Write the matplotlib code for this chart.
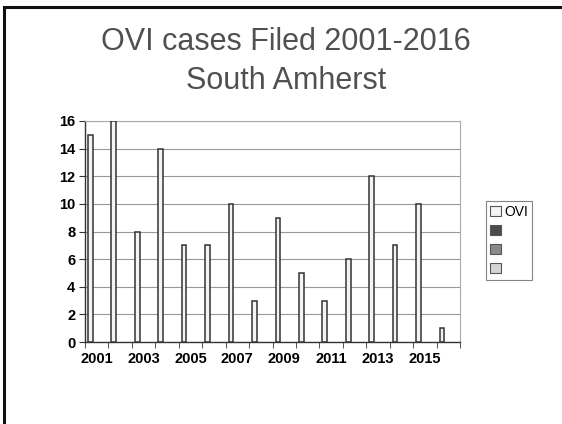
import numpy as np
import matplotlib
matplotlib.use('Agg')
import matplotlib.pyplot as plt
from matplotlib.patches import Patch, Rectangle

years = list(range(2001, 2017))
ovi_cases = [15, 16, 8, 14, 7, 7, 10, 3, 9, 5, 3, 6, 12, 7, 10, 1]
series_names = ['OVI', '', '', '']
series_colors = ['#f4f4f4', '#4a4a4a', '#8a8a8a', '#d4d4d4']

plt.rcParams['font.family'] = ['Liberation Sans', 'DejaVu Sans']

fig = plt.figure(figsize=(5.62, 4.24), dpi=100)
fig.patch.set_facecolor('white')

# slide frame
fig.add_artist(Rectangle((4 / 562, -0.05), 1.2, 1 - 7 / 424 + 0.05,
                         transform=fig.transFigure, fill=False,
                         edgecolor='#111111', linewidth=2.2))

fig.text(286 / 562, 1 - 42 / 424, 'OVI cases Filed 2001-2016', ha='center', va='center',
         fontsize=22, color='#505050')
fig.text(286 / 562, 1 - 81 / 424, 'South Amherst', ha='center', va='center',
         fontsize=22, color='#505050')

ax = fig.add_axes([85 / 562, 1 - 342 / 424, 375 / 562, 221 / 424])

x = np.arange(len(years))
ax.bar(x - 0.27, ovi_cases, width=0.2, facecolor=series_colors[0],
       edgecolor='#333333', linewidth=1.1, zorder=3)

ax.set_xlim(-0.5, len(years) - 0.5)
ax.set_ylim(0, 16)
ax.set_yticks(range(0, 17, 2))
ax.yaxis.grid(True, color='#999999', linewidth=0.8, zorder=0)

ax.set_xticks(x[::2])
ax.set_xticklabels([str(y) for y in years[::2]])
ax.set_xticks(np.arange(-0.5, len(years), 1), minor=True)
ax.tick_params(axis='x', which='major', length=0, pad=7)
ax.tick_params(axis='x', which='minor', length=4, direction='out', color='#333333')
ax.tick_params(axis='y', length=4, direction='out', color='#333333', pad=3)
for lab in ax.get_xticklabels() + ax.get_yticklabels():
    lab.set_fontweight('bold')
    lab.set_fontsize(10.5)

for side in ['top', 'right']:
    ax.spines[side].set_color('#aaaaaa')
    ax.spines[side].set_linewidth(0.8)
for side in ['left', 'bottom']:
    ax.spines[side].set_color('#333333')
    ax.spines[side].set_linewidth(1.0)

handles = [Patch(facecolor=c, edgecolor='#555555', linewidth=0.8) for c in series_colors]
leg = fig.legend(handles, series_names, loc='upper left',
                 bbox_to_anchor=(486 / 562, 1 - 201 / 424), borderaxespad=0,
                 frameon=True, fancybox=False, handlelength=0.75, handleheight=0.75,
                 handletextpad=0.25, labelspacing=0.35, borderpad=0.3,
                 prop={'size': 10})
leg.get_frame().set_edgecolor('#666666')
leg.get_frame().set_linewidth(0.8)

fig.savefig('out.png', dpi=100)
